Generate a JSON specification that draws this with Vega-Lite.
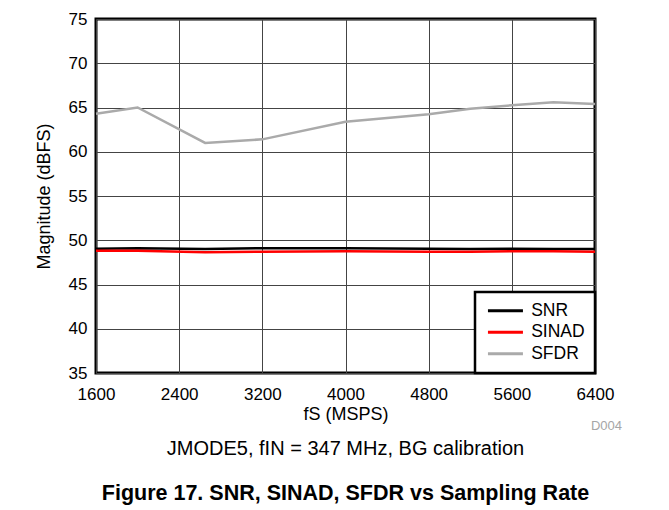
{
  "$schema": "https://vega.github.io/schema/vega-lite/v6.json",
  "width": 499,
  "height": 354,
  "autosize": {"type": "none"},
  "padding": {"left": 96, "top": 19, "right": 74, "bottom": 137},
  "background": "white",
  "config": {
    "font": "Liberation Sans",
    "view": {"stroke": "black", "strokeWidth": 3},
    "axis": {
      "grid": true, "gridColor": "#444444", "gridWidth": 1, "gridOpacity": 1,
      "domain": false, "ticks": false,
      "labelFontSize": 17, "labelColor": "black", "labelFont": "Liberation Sans",
      "titleFontSize": 18, "titleFontWeight": "normal", "titleColor": "black", "titleFont": "Liberation Sans",
      "labelFlush": false, "labelOverlap": false
    },
    "legend": {
      "orient": "bottom-right", "offset": 0,
      "symbolType": "M-3,0H3", "symbolSize": 136, "symbolStrokeWidth": 3, "symbolOffset": 11.7,
      "labelFontSize": 17.5, "labelOffset": 17, "labelColor": "black", "labelFont": "Liberation Sans",
      "padding": 10, "rowPadding": 2.5,
      "strokeColor": "black", "strokeWidth": 2.5, "fillColor": "white", "cornerRadius": 0
    }
  },
  "title": {
    "text": "JMODE5, fIN = 347 MHz, BG calibration",
    "subtitle": "Figure 17. SNR, SINAD, SFDR vs Sampling Rate",
    "orient": "bottom", "anchor": "middle", "frame": "group",
    "font": "Liberation Sans", "fontSize": 20, "fontWeight": "normal", "color": "black",
    "subtitleFont": "Liberation Sans", "subtitleFontSize": 21.5, "subtitleFontWeight": "bold", "subtitleColor": "black",
    "offset": 6, "subtitlePadding": 24
  },
  "layer": [
    {
      "data": {
        "values": [
          {"fs": 1600, "series": "SNR", "dBFS": 49.05},
          {"fs": 2000, "series": "SNR", "dBFS": 49.1},
          {"fs": 2650, "series": "SNR", "dBFS": 49.0},
          {"fs": 3200, "series": "SNR", "dBFS": 49.1},
          {"fs": 4000, "series": "SNR", "dBFS": 49.1},
          {"fs": 4800, "series": "SNR", "dBFS": 49.05},
          {"fs": 5200, "series": "SNR", "dBFS": 49.0},
          {"fs": 5600, "series": "SNR", "dBFS": 49.05},
          {"fs": 6000, "series": "SNR", "dBFS": 49.0},
          {"fs": 6400, "series": "SNR", "dBFS": 49.0},
          {"fs": 1600, "series": "SINAD", "dBFS": 48.8},
          {"fs": 2000, "series": "SINAD", "dBFS": 48.8},
          {"fs": 2650, "series": "SINAD", "dBFS": 48.65},
          {"fs": 3200, "series": "SINAD", "dBFS": 48.7},
          {"fs": 4000, "series": "SINAD", "dBFS": 48.75},
          {"fs": 4800, "series": "SINAD", "dBFS": 48.7},
          {"fs": 5200, "series": "SINAD", "dBFS": 48.7},
          {"fs": 5600, "series": "SINAD", "dBFS": 48.75},
          {"fs": 6000, "series": "SINAD", "dBFS": 48.75},
          {"fs": 6400, "series": "SINAD", "dBFS": 48.7},
          {"fs": 1600, "series": "SFDR", "dBFS": 64.3},
          {"fs": 2000, "series": "SFDR", "dBFS": 65.0},
          {"fs": 2650, "series": "SFDR", "dBFS": 61.0},
          {"fs": 3200, "series": "SFDR", "dBFS": 61.4},
          {"fs": 4000, "series": "SFDR", "dBFS": 63.4},
          {"fs": 4800, "series": "SFDR", "dBFS": 64.25},
          {"fs": 5200, "series": "SFDR", "dBFS": 64.85},
          {"fs": 5600, "series": "SFDR", "dBFS": 65.25},
          {"fs": 6000, "series": "SFDR", "dBFS": 65.6},
          {"fs": 6400, "series": "SFDR", "dBFS": 65.4}
        ]
      },
      "mark": {"type": "line", "strokeWidth": 2.5},
      "encoding": {
        "x": {
          "field": "fs", "type": "quantitative",
          "scale": {"domain": [1600, 6400], "nice": false, "zero": false},
          "axis": {"title": "fS (MSPS)", "format": "d", "values": [1600, 2400, 3200, 4000, 4800, 5600, 6400], "labelPadding": 13, "titlePadding": 3}
        },
        "y": {
          "field": "dBFS", "type": "quantitative",
          "scale": {"domain": [35, 75], "nice": false, "zero": false},
          "axis": {"title": "Magnitude (dBFS)", "format": "d", "values": [35, 40, 45, 50, 55, 60, 65, 70, 75], "labelPadding": 9, "titlePadding": 15}
        },
        "color": {
          "field": "series", "type": "nominal",
          "scale": {"domain": ["SNR", "SINAD", "SFDR"], "range": ["#000000", "#ff0000", "#aaaaaa"]},
          "legend": {"title": null}
        },
        "order": {"field": "fs", "type": "quantitative"}
      }
    },
    {
      "data": {"values": [{"code": "D004"}]},
      "mark": {"type": "text", "align": "right", "baseline": "top", "dx": 27, "dy": 47, "fontSize": 13, "color": "#a6a6a6", "font": "Liberation Sans"},
      "encoding": {
        "x": {"datum": 6400, "type": "quantitative"},
        "y": {"datum": 35, "type": "quantitative"},
        "text": {"field": "code"}
      }
    }
  ]
}
